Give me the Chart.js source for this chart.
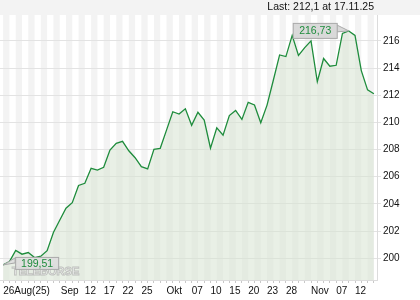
<!DOCTYPE html>
<html><head><meta charset="utf-8">
<script src="https://cdn.jsdelivr.net/npm/chart.js@4/dist/chart.umd.min.js"></script>
<style>html,body{margin:0;padding:0;background:#fff;}#wrap{width:420px;height:300px;}</style>
</head><body><div id="wrap"><canvas id="c" width="420" height="300"></canvas></div>
<script>
// ---- data ----
const dates = [
 '2025-08-26','2025-08-27','2025-08-28','2025-08-29',
 '2025-09-01','2025-09-02','2025-09-03','2025-09-04','2025-09-05','2025-09-08','2025-09-09','2025-09-10','2025-09-11','2025-09-12',
 '2025-09-15','2025-09-16','2025-09-17','2025-09-18','2025-09-19','2025-09-22','2025-09-23','2025-09-24','2025-09-25','2025-09-26',
 '2025-09-29','2025-09-30','2025-10-01','2025-10-02','2025-10-03','2025-10-06','2025-10-07','2025-10-08','2025-10-09','2025-10-10',
 '2025-10-13','2025-10-14','2025-10-15','2025-10-16','2025-10-17','2025-10-20','2025-10-21','2025-10-22','2025-10-23','2025-10-24',
 '2025-10-27','2025-10-28','2025-10-29','2025-10-30','2025-10-31','2025-11-03','2025-11-04','2025-11-05','2025-11-06','2025-11-07',
 '2025-11-10','2025-11-11','2025-11-12','2025-11-13','2025-11-14','2025-11-17'
];
const prices = [
 199.51,199.75,200.58,200.30,
 200.42,200.05,200.15,200.56,201.90,202.80,203.68,204.09,205.36,205.52,
 206.62,206.49,206.69,207.96,208.46,208.60,207.91,207.40,206.74,206.57,
 208.01,208.09,209.43,210.78,210.61,211.00,209.78,210.74,210.17,208.10,
 209.60,209.05,210.50,210.88,210.22,211.47,211.28,209.97,211.27,213.10,
 214.96,214.84,216.40,214.93,215.50,216.00,212.99,214.70,214.13,214.20,
 216.54,216.73,216.40,213.81,212.39,212.10
];
const yTicks = [200,202,204,206,208,210,212,214,216];
const xTickDates = ['2025-08-26','2025-09-01','2025-09-12','2025-09-17','2025-09-22','2025-09-25','2025-10-01','2025-10-07','2025-10-10','2025-10-15','2025-10-20','2025-10-23','2025-10-28','2025-11-03','2025-11-07','2025-11-12'];
const xTickLabels = ['26Aug(25)','Sep','12','17','22','25','Okt','07','10','15','20','23','28','Nov','07','12'];
const lastText = 'Last: 212,1 at 17.11.25';
const watermark = 'TELEBÖRSE';

const FONT = "'Liberation Sans', Arial, sans-serif";
const fmt = v => v.toFixed(2).replace('.', ',');

const decor = {
  id: 'decor',
  beforeDraw(chart) {
    const {ctx, chartArea: a, scales: {x}} = chart;
    ctx.save();
    ctx.fillStyle = '#f3f3f3';
    ctx.fillRect(0, 0, chart.width, a.top);
    ctx.fillStyle = '#ffffff';
    ctx.fillRect(a.left, a.top, a.right - a.left, a.bottom - a.top);
    ctx.fillStyle = '#f3f3f3';
    for (let i = 0; i < dates.length; i += 2) {
      const x0 = x.getPixelForValue(i);
      const x1 = i + 1 < dates.length ? x.getPixelForValue(i + 1) : a.right;
      ctx.fillRect(x0, a.top, x1 - x0, a.bottom - a.top);
    }
    ctx.restore();
  },
  afterDatasetsDraw(chart) {
    const {ctx, chartArea: a, scales: {x, y}} = chart;
    ctx.save();
    // watermark
    ctx.font = "bold 11px " + FONT;
    ctx.textAlign = 'left';
    ctx.textBaseline = 'middle';
    ctx.lineWidth = 1;
    ctx.strokeStyle = 'rgba(160,160,160,0.6)';
    ctx.fillStyle = 'rgba(255,255,255,0.7)';
    ctx.fillText(watermark, a.left + 12, a.bottom - 8);
    ctx.strokeText(watermark, a.left + 12, a.bottom - 8);

    ctx.font = "10.5px " + FONT;
    ctx.textAlign = 'center';
    // max label
    let mi = 0, ni = 0;
    prices.forEach((v, i) => { if (v > prices[mi]) mi = i; if (v < prices[ni]) ni = i; });
    const px = x.getPixelForValue(mi), py = y.getPixelForValue(prices[mi]);
    let r = px - 12, l = r - 44, t = py - 8, b = py + 7;
    ctx.fillStyle = '#d9d9d9'; ctx.strokeStyle = '#a9a9a9';
    ctx.beginPath(); ctx.moveTo(r, t + 2); ctx.lineTo(px, py); ctx.lineTo(r, t + 9); ctx.closePath(); ctx.fill(); ctx.stroke();
    ctx.fillRect(l + 0.5, t + 0.5, r - l, b - t); ctx.strokeRect(l + 0.5, t + 0.5, r - l, b - t);
    ctx.fillStyle = '#1e8c3c';
    ctx.fillText(fmt(prices[mi]), (l + r) / 2 + 0.5, (t + b) / 2 + 1);
    // min label
    const qx = x.getPixelForValue(ni), qy = y.getPixelForValue(prices[ni]);
    l = qx + 12; r = l + 43; t = qy - 8; b = qy + 4;
    ctx.fillStyle = 'rgba(222,222,222,0.9)'; ctx.strokeStyle = '#a9a9a9';
    ctx.beginPath(); ctx.moveTo(l, t + 1); ctx.lineTo(qx, qy); ctx.lineTo(l, t + 6); ctx.closePath(); ctx.fill(); ctx.stroke();
    ctx.fillRect(l + 0.5, t + 0.5, r - l, b - t); ctx.strokeRect(l + 0.5, t + 0.5, r - l, b - t);
    ctx.fillStyle = '#1e8c3c';
    ctx.fillText(fmt(prices[ni]), (l + r) / 2 + 0.5, (t + b) / 2 + 1);
    ctx.restore();
  },
  afterDraw(chart) {
    const {ctx, chartArea: a, scales: {x}} = chart;
    ctx.save();
    ctx.font = "10px " + FONT;
    ctx.fillStyle = '#111';
    ctx.textBaseline = 'middle';
    ctx.textAlign = 'left';
    let prevRight = -100;
    xTickLabels.forEach((lab, k) => {
      const idx = dates.indexOf(xTickDates[k]);
      let left = x.getPixelForValue(idx);
      const w = ctx.measureText(lab).width;
      if (left < prevRight + 2) left = prevRight + 11;
      ctx.fillText(lab, left, a.bottom + 11);
      prevRight = left + w;
    });
    ctx.font = "10.5px " + FONT;
    ctx.textAlign = 'right';
    ctx.fillText(lastText, a.right - 3, 7);
    ctx.restore();
  }
};

new Chart(document.getElementById('c'), {
  type: 'line',
  data: {
    labels: dates,
    datasets: [{
      data: prices,
      borderColor: '#1e8c3c',
      borderWidth: 1.3,
      pointRadius: 0,
      tension: 0,
      fill: 'start',
      backgroundColor: 'rgba(215,228,210,0.55)'
    }]
  },
  options: {
    responsive: false,
    animation: false,
    devicePixelRatio: 1,
    layout: { padding: { top: 15, left: 0, right: 0, bottom: 0 } },
    plugins: { legend: { display: false }, tooltip: { enabled: false } },
    scales: {
      x: {
        type: 'category',
        offset: true,
        grid: { display: true, drawOnChartArea: false, drawTicks: true, tickLength: 3, color: '#c8c8c8', offset: false },
        border: { color: '#dcdcdc' },
        ticks: { autoSkip: false, maxRotation: 0, callback: () => '', padding: 0 },
        afterFit: s => { s.height = 20; }
      },
      y: {
        position: 'right',
        min: 198.4,
        max: 217.9,
        afterBuildTicks: s => { s.ticks = yTicks.map(v => ({ value: v })); },
        grid: { color: '#e3e3e3', tickLength: 4, drawTicks: true },
        border: { color: '#dcdcdc' },
        ticks: { color: '#111', font: { family: FONT, size: 10 }, padding: 2, callback: v => String(v) },
        afterFit: s => { s.width = 43; }
      }
    }
  },
  plugins: [decor]
});
</script>
</body></html>
